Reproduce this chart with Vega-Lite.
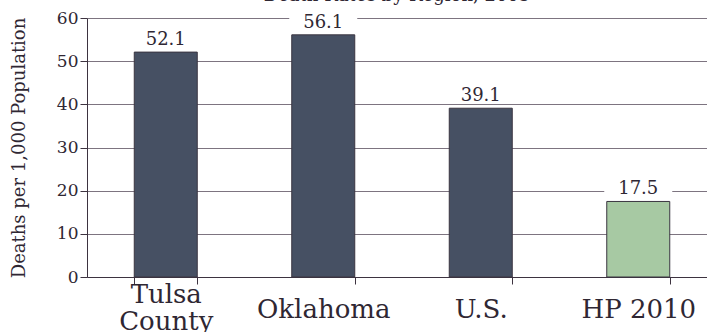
{
  "$schema": "https://vega.github.io/schema/vega-lite/v6.json",
  "width": 620,
  "height": 259,
  "autosize": {"type": "none"},
  "padding": {"left": 87, "top": 18, "right": 0, "bottom": 55},
  "background": "white",
  "title": {
    "text": "Death Rates by Region, 2005",
    "font": "DejaVu Serif",
    "fontSize": 18,
    "fontWeight": "normal",
    "color": "#2f2733",
    "anchor": "middle",
    "offset": 4
  },
  "data": {
    "values": [
      {"region": "Tulsa County", "rate": 52.1, "group": "actual"},
      {"region": "Oklahoma", "rate": 56.1, "group": "actual"},
      {"region": "U.S.", "rate": 39.1, "group": "actual"},
      {"region": "HP 2010", "rate": 17.5, "group": "target"}
    ]
  },
  "encoding": {
    "x": {
      "field": "region",
      "type": "nominal",
      "sort": null,
      "scale": {"range": [0, 630], "paddingInner": 0.6, "paddingOuter": 0.3},
      "axis": {
        "title": null,
        "labelAngle": 0,
        "tickBand": "extent",
        "tickSize": 7,
        "tickColor": "#3d3340",
        "domainColor": "#3d3340",
        "labelFont": "DejaVu Serif",
        "labelFontSize": 26,
        "labelColor": "#2f2733",
        "labelBaseline": "middle",
        "labelPadding": {"condition": {"test": "datum.value == 'Tulsa County'", "value": 10}, "value": 25},
        "labelLineHeight": 27,
        "labelExpr": "datum.label == 'Tulsa County' ? ['Tulsa', 'County'] : datum.label"
      }
    },
    "y": {
      "field": "rate",
      "type": "quantitative",
      "scale": {"domain": [0, 60], "nice": false},
      "axis": {
        "title": "Deaths per 1,000 Population",
        "titleFont": "DejaVu Serif",
        "titleFontSize": 18,
        "titleFontWeight": "normal",
        "titleColor": "#2f2733",
        "titlePadding": 28,
        "values": [0, 10, 20, 30, 40, 50, 60],
        "labelFont": "DejaVu Serif",
        "labelFontSize": 17,
        "labelColor": "#2f2733",
        "labelPadding": 2,
        "tickSize": 7,
        "tickColor": "#3d3340",
        "domainColor": "#3d3340",
        "grid": true,
        "gridColor": "#7d7480",
        "gridOpacity": 1
      }
    }
  },
  "layer": [
    {
      "mark": {"type": "bar", "stroke": "#3a3540", "strokeWidth": 1},
      "encoding": {
        "color": {
          "field": "group",
          "type": "nominal",
          "scale": {"domain": ["actual", "target"], "range": ["#465063", "#a7c9a3"]},
          "legend": null
        }
      }
    },
    {
      "mark": {"type": "tick", "color": "white", "opacity": 1, "thickness": 16, "size": 68, "yOffset": -14}
    },
    {
      "mark": {"type": "text", "baseline": "alphabetic", "dy": -7, "fontSize": 18, "font": "DejaVu Serif", "color": "#2f2733"},
      "encoding": {"text": {"field": "rate", "type": "quantitative", "format": ".1f"}}
    }
  ],
  "config": {"view": {"stroke": null}}
}
